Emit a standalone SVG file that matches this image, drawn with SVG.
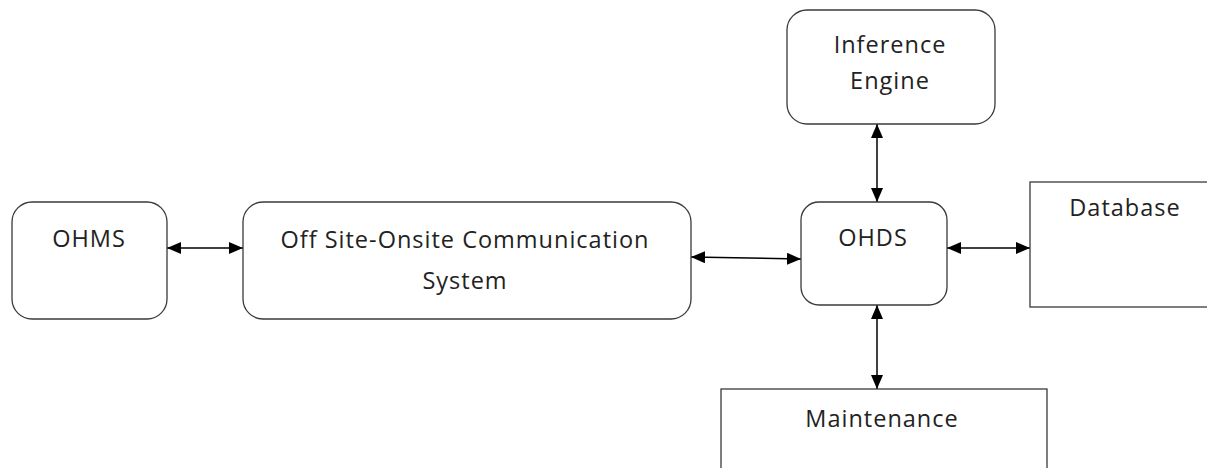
<svg xmlns="http://www.w3.org/2000/svg" width="1207" height="468" viewBox="0 0 1207 468">
<style>
.box{fill:#fff;stroke:#3a3a3a;stroke-width:1.3}
.lbl{font-family:"Open Sans","Liberation Sans",sans-serif;font-size:23.5px;letter-spacing:1px;fill:#222;text-anchor:middle}
.cn{stroke:#000;stroke-width:1.5;fill:none;marker-start:url(#ah);marker-end:url(#ah)}
</style>
<defs>
<marker id="ah" viewBox="0 0 14 12" refX="14" refY="6" markerWidth="14" markerHeight="12" markerUnits="userSpaceOnUse" orient="auto-start-reverse">
<path d="M0,0 L14,6 L0,12 Z" fill="#000"/>
</marker>
</defs>
<rect width="1207" height="468" fill="#fff"/>
<g id="connectors">
<line class="cn" x1="167" y1="248" x2="243" y2="248"/>
<line class="cn" x1="691" y1="257" x2="801" y2="259"/>
<line class="cn" x1="877" y1="124" x2="877" y2="202"/>
<line class="cn" x1="947" y1="248" x2="1030" y2="248"/>
<line class="cn" x1="877" y1="305" x2="877" y2="389"/>
</g>
<g id="ohms">
<rect class="box" x="12" y="202" width="155" height="117" rx="20"/>
<text class="lbl" x="89" y="247">OHMS</text>
</g>
<g id="comm">
<rect class="box" x="243" y="202" width="448" height="117" rx="20"/>
<text class="lbl" x="465" y="248">Off Site-Onsite Communication</text>
<text class="lbl" x="465" y="289">System</text>
</g>
<g id="inference">
<rect class="box" x="787" y="10" width="208" height="114" rx="20"/>
<text class="lbl" x="890" y="53">Inference</text>
<text class="lbl" x="890" y="89">Engine</text>
</g>
<g id="ohds">
<rect class="box" x="801" y="202" width="146" height="103" rx="18"/>
<text class="lbl" x="873" y="246">OHDS</text>
</g>
<g id="database">
<rect class="box" x="1030" y="182" width="190" height="125"/>
<text class="lbl" x="1125" y="216">Database</text>
</g>
<g id="maintenance">
<rect class="box" x="721" y="389" width="326" height="100"/>
<text class="lbl" x="882" y="427">Maintenance</text>
</g>
</svg>
